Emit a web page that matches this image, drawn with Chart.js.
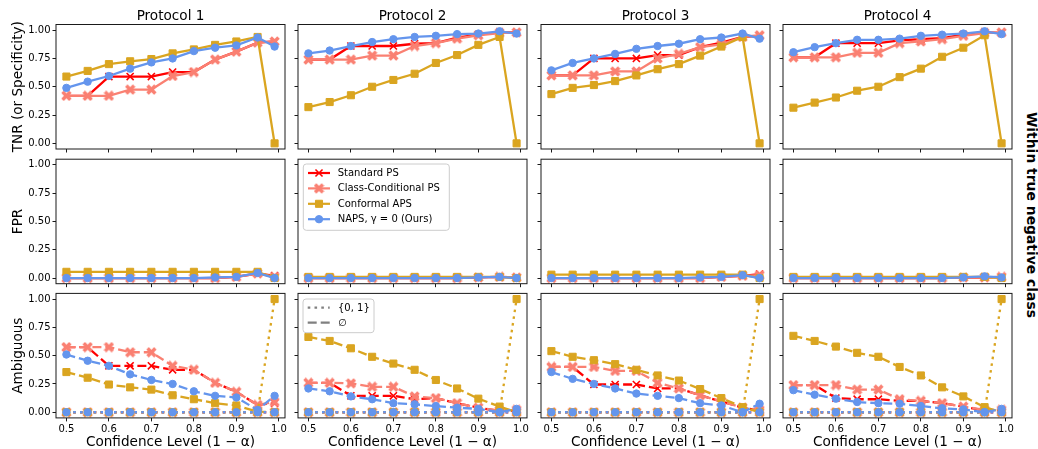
<!DOCTYPE html>
<html>
<head>
<meta charset="utf-8">
<script src="https://cdn.jsdelivr.net/npm/chart.js@4.4.0/dist/chart.umd.min.js"></script>
<style>
  body { margin: 0; background: #fff; }
  #fig { position: relative; width: 1038px; height: 449px; overflow: hidden; background: #fff; }
  #fig canvas { position: absolute; }
  #side {
    position: absolute; left: 1032px; top: 215px;
    transform: translate(-50%, -50%) rotate(90deg);
    white-space: nowrap; font: bold 13.9px 'DejaVu Sans', sans-serif; color: #000;
  }
</style>
</head>
<body>
<div id="fig"><div id="side">Within true negative class</div></div>
<script>
/* data */
const CONF = [0.5, 0.55, 0.6, 0.65, 0.7, 0.75, 0.8, 0.85, 0.9, 0.95, 0.99];
const X_TICKS = [0.5, 0.6, 0.7, 0.8, 0.9, 1.0];
const Y_TICKS = [0, 0.25, 0.5, 0.75, 1.0];
const PROTOCOLS = ['Protocol 1', 'Protocol 2', 'Protocol 3', 'Protocol 4'];
const ROW_TITLES = ['TNR (or Specificity)', 'FPR', 'Ambiguous'];
const METHODS = ['Standard PS', 'Class-Conditional PS', 'Conformal APS', 'NAPS, \u03b3 = 0 (Ours)'];
const AMB_KINDS = ['{0, 1}', '\u2205'];

// TNR, one row per protocol
const TNR_STD = [
  [0.42, 0.42, 0.59, 0.59, 0.59, 0.63, 0.63, 0.74, 0.81, 0.89, 0.90],
  [0.74, 0.74, 0.86, 0.86, 0.86, 0.88, 0.885, 0.935, 0.96, 0.98, 0.98],
  [0.60, 0.60, 0.75, 0.75, 0.75, 0.78, 0.78, 0.85, 0.89, 0.94, 0.95],
  [0.76, 0.76, 0.885, 0.885, 0.885, 0.91, 0.92, 0.93, 0.96, 0.98, 0.975]
];
const TNR_CC = [
  [0.42, 0.42, 0.42, 0.475, 0.475, 0.595, 0.63, 0.74, 0.81, 0.89, 0.90],
  [0.74, 0.74, 0.74, 0.775, 0.775, 0.86, 0.885, 0.925, 0.955, 0.975, 0.98],
  [0.60, 0.60, 0.60, 0.635, 0.635, 0.75, 0.79, 0.85, 0.875, 0.94, 0.955],
  [0.76, 0.76, 0.76, 0.80, 0.80, 0.885, 0.90, 0.92, 0.95, 0.975, 0.98]
];
const TNR_APS = [
  [0.59, 0.64, 0.70, 0.725, 0.745, 0.795, 0.83, 0.87, 0.90, 0.94, 0],
  [0.32, 0.365, 0.425, 0.50, 0.56, 0.615, 0.71, 0.78, 0.87, 0.94, 0],
  [0.435, 0.49, 0.515, 0.55, 0.60, 0.655, 0.70, 0.775, 0.855, 0.94, 0],
  [0.315, 0.36, 0.405, 0.465, 0.50, 0.585, 0.66, 0.765, 0.845, 0.955, 0]
];
const TNR_NAPS = [
  [0.49, 0.545, 0.595, 0.66, 0.715, 0.75, 0.815, 0.845, 0.865, 0.935, 0.855],
  [0.795, 0.82, 0.86, 0.895, 0.92, 0.94, 0.95, 0.965, 0.97, 0.99, 0.97],
  [0.645, 0.71, 0.75, 0.79, 0.835, 0.86, 0.88, 0.92, 0.935, 0.97, 0.925],
  [0.805, 0.85, 0.885, 0.915, 0.915, 0.925, 0.95, 0.96, 0.97, 0.99, 0.965]
];

// FPR
const FPR_STD = [
  [0, 0, 0, 0, 0, 0, 0, 0, 0.01, 0.04, 0.02],
  [0, 0, 0, 0, 0, 0, 0, 0, 0.005, 0.01, 0.005],
  [0, 0, 0, 0, 0, 0, 0, 0, 0.01, 0.02, 0.035],
  [0, 0, 0, 0, 0, 0, 0, 0, 0.005, 0.005, 0.01]
];
const FPR_CC = [
  [0, 0, 0, 0, 0, 0, 0, 0, 0.01, 0.04, 0.01],
  [0, 0, 0, 0, 0, 0, 0, 0, 0.005, 0.01, 0.005],
  [0, 0, 0, 0, 0, 0, 0, 0, 0.01, 0.02, 0.025],
  [0, 0, 0, 0, 0, 0, 0, 0, 0.005, 0.005, 0.01]
];
const FPR_APS = [
  [0.055, 0.055, 0.055, 0.055, 0.055, 0.055, 0.055, 0.055, 0.055, 0.055, 0],
  [0.01, 0.01, 0.01, 0.01, 0.01, 0.01, 0.01, 0.01, 0.01, 0.01, 0],
  [0.03, 0.03, 0.03, 0.03, 0.03, 0.03, 0.03, 0.03, 0.03, 0.03, 0],
  [0.01, 0.01, 0.01, 0.01, 0.01, 0.01, 0.01, 0.01, 0.01, 0.01, 0]
];
const FPR_NAPS = [
  [0, 0, 0, 0, 0, 0, 0, 0.005, 0.01, 0.045, 0],
  [0, 0, 0, 0, 0, 0, 0, 0, 0.005, 0.01, 0],
  [0, 0, 0, 0, 0, 0, 0, 0.005, 0.01, 0.025, 0],
  [0, 0, 0, 0, 0, 0, 0, 0, 0.005, 0.015, 0.005]
];

// Ambiguous, empty set (dashed)
const EMPTY_STD = [
  [0.575, 0.575, 0.41, 0.41, 0.41, 0.375, 0.375, 0.26, 0.18, 0.065, 0.08],
  [0.26, 0.26, 0.145, 0.145, 0.145, 0.115, 0.125, 0.08, 0.04, 0.01, 0.015],
  [0.40, 0.40, 0.245, 0.245, 0.245, 0.21, 0.21, 0.15, 0.095, 0.04, 0.015],
  [0.24, 0.24, 0.125, 0.115, 0.115, 0.10, 0.10, 0.08, 0.05, 0.015, 0.015]
];
const EMPTY_CC = [
  [0.575, 0.575, 0.575, 0.53, 0.53, 0.41, 0.375, 0.26, 0.18, 0.065, 0.09],
  [0.26, 0.26, 0.255, 0.225, 0.225, 0.14, 0.125, 0.08, 0.04, 0.015, 0.02],
  [0.40, 0.40, 0.40, 0.365, 0.365, 0.26, 0.21, 0.15, 0.095, 0.04, 0.02],
  [0.24, 0.24, 0.24, 0.20, 0.20, 0.115, 0.10, 0.08, 0.05, 0.02, 0.02]
];
const EMPTY_APS = [
  [0.355, 0.305, 0.245, 0.22, 0.20, 0.15, 0.115, 0.08, 0.06, 0.005, 0],
  [0.665, 0.63, 0.565, 0.49, 0.43, 0.375, 0.285, 0.21, 0.12, 0.05, 0],
  [0.54, 0.49, 0.46, 0.425, 0.375, 0.325, 0.28, 0.205, 0.125, 0.045, 0],
  [0.675, 0.63, 0.58, 0.525, 0.49, 0.40, 0.325, 0.22, 0.14, 0.045, 0]
];
const EMPTY_NAPS = [
  [0.51, 0.455, 0.41, 0.335, 0.285, 0.25, 0.185, 0.145, 0.13, 0.02, 0.145],
  [0.21, 0.185, 0.14, 0.115, 0.08, 0.07, 0.055, 0.04, 0.03, 0, 0.03],
  [0.355, 0.295, 0.25, 0.21, 0.165, 0.145, 0.125, 0.08, 0.06, 0, 0.075],
  [0.195, 0.155, 0.12, 0.09, 0.08, 0.075, 0.055, 0.035, 0.025, 0, 0.03]
];

// Ambiguous, both labels {0,1} (dotted) - same in every protocol
const BOTH_STD  = [0, 0, 0, 0, 0, 0, 0, 0, 0, 0, 0];
const BOTH_CC   = [0, 0, 0, 0, 0, 0, 0, 0, 0, 0, 0];
const BOTH_APS  = [0, 0, 0, 0, 0, 0, 0, 0, 0, 0, 1.0];
const BOTH_NAPS = [0, 0, 0, 0, 0, 0, 0, 0, 0, 0, 0];

/* layout of the 3x4 grid (pixels) */
const COL_LEFT = [56, 298, 541, 783];
const ROW_TOP = [24.5, 159.2, 293.4];
const PLOT_W = 229, PLOT_H = 124.5;
const FIG_H = 449;
const EDGE = 11; // spare room round inner plots so tick labels never squeeze them

Chart.defaults.font.family = "'DejaVu Sans', sans-serif";
Chart.defaults.color = '#000';

function makeXMarker(color) {
  const c = document.createElement('canvas');
  c.width = 11; c.height = 11;
  const g = c.getContext('2d');
  g.strokeStyle = color; g.lineWidth = 3.5;
  g.beginPath();
  g.moveTo(1.6, 1.6); g.lineTo(9.4, 9.4);
  g.moveTo(9.4, 1.6); g.lineTo(1.6, 9.4);
  g.stroke();
  return c;
}

const STYLES = [
  { color: '#ff0000', pointStyle: 'crossRot', radius: 5, pbw: 1.6 },
  { color: '#fa8072', pointStyle: makeXMarker('#fa8072'), radius: 5, pbw: 1 },
  { color: '#daa520', pointStyle: 'rect', radius: 5, pbw: 1 },
  { color: '#6495ed', pointStyle: 'circle', radius: 3.7, pbw: 1 }
];
const DASHED = [9, 4];
const DOTTED = [2.6, 4.2];

const TNR = [TNR_STD, TNR_CC, TNR_APS, TNR_NAPS];
const FPR = [FPR_STD, FPR_CC, FPR_APS, FPR_NAPS];
const EMPTY = [EMPTY_STD, EMPTY_CC, EMPTY_APS, EMPTY_NAPS];
const BOTH = [BOTH_STD, BOTH_CC, BOTH_APS, BOTH_NAPS];

function drawMarker(ctx, st, x, y) {
  ctx.save();
  ctx.fillStyle = st.color; ctx.strokeStyle = st.color; ctx.lineWidth = st.pbw;
  ctx.setLineDash([]);
  if (st.pointStyle instanceof HTMLCanvasElement) {
    ctx.drawImage(st.pointStyle, x - st.pointStyle.width / 2, y - st.pointStyle.height / 2);
  } else if (st.pointStyle === 'rect') {
    const s = st.radius * Math.SQRT1_2;
    ctx.beginPath(); ctx.rect(x - s, y - s, 2 * s, 2 * s); ctx.fill(); ctx.stroke();
  } else if (st.pointStyle === 'circle') {
    ctx.beginPath(); ctx.arc(x, y, st.radius, 0, Math.PI * 2); ctx.fill(); ctx.stroke();
  } else if (st.pointStyle === 'crossRot') {
    const d = st.radius * Math.SQRT1_2;
    ctx.beginPath();
    ctx.moveTo(x - d, y - d); ctx.lineTo(x + d, y + d);
    ctx.moveTo(x + d, y - d); ctx.lineTo(x - d, y + d);
    ctx.stroke();
  }
  ctx.restore();
}

// full box round the axes, like matplotlib spines
const framePlugin = {
  id: 'frame',
  afterDatasetsDraw(chart) {
    const { ctx, chartArea: a } = chart;
    ctx.save();
    ctx.strokeStyle = '#1a1a1a'; ctx.lineWidth = 1;
    ctx.strokeRect(a.left, a.top, a.right - a.left, a.bottom - a.top);
    ctx.restore();
  }
};

// legend box inside the axes (upper left)
const boxLegendPlugin = {
  id: 'boxLegend',
  afterDraw(chart, args, opts) {
    if (!opts || !opts.items) return;
    const { ctx, chartArea: a } = chart;
    const x0 = a.left + opts.dx, y0 = a.top + opts.dy;
    ctx.save();
    ctx.beginPath();
    if (ctx.roundRect) ctx.roundRect(x0, y0, opts.w, opts.h, 3); else ctx.rect(x0, y0, opts.w, opts.h);
    ctx.fillStyle = 'rgba(255,255,255,0.8)'; ctx.fill();
    ctx.strokeStyle = '#cccccc'; ctx.lineWidth = 1; ctx.stroke();
    ctx.font = "10px 'DejaVu Sans', sans-serif";
    ctx.textBaseline = 'middle'; ctx.textAlign = 'left';
    opts.items.forEach((it, i) => {
      const y = y0 + opts.firstRow + i * opts.rowStep;
      ctx.save();
      ctx.strokeStyle = it.color; ctx.lineWidth = 2.2;
      ctx.setLineDash(it.dash || []);
      ctx.beginPath(); ctx.moveTo(x0 + 4.7, y); ctx.lineTo(x0 + 26.7, y); ctx.stroke();
      ctx.restore();
      if (it.marker) drawMarker(ctx, it.marker, x0 + 15.7, y);
      ctx.fillStyle = '#000';
      ctx.fillText(it.label, x0 + opts.textX, y + 0.5);
    });
    ctx.restore();
  }
};

function lineDataset(vals, st, dash, order) {
  return {
    data: CONF.map((x, i) => ({ x: x, y: vals[i] })),
    borderColor: st.color,
    backgroundColor: st.color,
    borderWidth: 2.3,
    borderDash: dash,
    pointStyle: st.pointStyle,
    pointRadius: st.radius,
    pointBorderWidth: st.pbw,
    pointBackgroundColor: st.color,
    pointBorderColor: st.color,
    tension: 0,
    clip: false,
    order: order
  };
}

function buildDatasets(r, p) {
  const sets = [];
  if (r === 0 || r === 1) {
    const src = r === 0 ? TNR : FPR;
    src.forEach((m, k) => sets.push(lineDataset(m[p], STYLES[k], [], 10 - k)));
  } else {
    EMPTY.forEach((m, k) => {
      sets.push(lineDataset(m[p], STYLES[k], DASHED, 20 - 2 * k));
      sets.push(lineDataset(BOTH[k], STYLES[k], DOTTED, 19 - 2 * k));
    });
  }
  return sets;
}

function legendFor(r, c) {
  if (c !== 1) return {};
  if (r === 1) {
    return {
      dx: 5.3, dy: 4.8, w: 146, h: 66.3, firstRow: 9, rowStep: 15.4, textX: 34.4,
      items: METHODS.map((label, k) => ({ label, color: STYLES[k].color, marker: STYLES[k] }))
    };
  }
  if (r === 2) {
    return {
      dx: 5, dy: 5.6, w: 71, h: 33.7, firstRow: 8.7, rowStep: 15, textX: 35,
      items: [
        { label: AMB_KINDS[0], color: '#808080', dash: DOTTED },
        { label: AMB_KINDS[1], color: '#808080', dash: DASHED }
      ]
    };
  }
  return {};
}

const fig = document.getElementById('fig');

for (let r = 0; r < 3; r++) {
  for (let c = 0; c < 4; c++) {
    const yW = c === 0 ? 56 : EDGE;
    const left = COL_LEFT[c] - yW;
    const width = yW + PLOT_W + EDGE;
    let top, padTop, titleH;
    if (r === 0) { top = 0; padTop = 0; titleH = ROW_TOP[0]; }
    else { top = Math.floor(ROW_TOP[r]) - EDGE; padTop = ROW_TOP[r] - top; titleH = 0; }
    const height = r === 2 ? FIG_H - top : Math.ceil(padTop + titleH + PLOT_H + EDGE);
    const xH = height - padTop - titleH - PLOT_H;

    const canvas = document.createElement('canvas');
    canvas.width = width; canvas.height = height;
    canvas.style.left = left + 'px'; canvas.style.top = top + 'px';
    canvas.style.width = width + 'px'; canvas.style.height = height + 'px';
    fig.appendChild(canvas);

    const titleFont = 13.6;
    new Chart(canvas, {
      type: 'line',
      data: { datasets: buildDatasets(r, c) },
      options: {
        responsive: false,
        animation: false,
        devicePixelRatio: 1,
        events: [],
        layout: { padding: { top: padTop, right: EDGE, bottom: 0, left: 0 } },
        scales: {
          x: {
            type: 'linear', min: 0.4755, max: 1.0145,
            afterBuildTicks: s => { s.ticks = X_TICKS.map(v => ({ value: v })); },
            afterFit: s => { s.height = xH; },
            ticks: { display: r === 2, autoSkip: false, maxRotation: 0, padding: 2,
                     font: { size: 10 }, color: '#000', callback: v => Number(v).toFixed(1) },
            grid: { drawOnChartArea: false, drawTicks: true, tickLength: 3.5, tickColor: '#000', tickWidth: 0.9 },
            border: { display: false },
            title: { display: r === 2, text: 'Confidence Level (1 \u2212 \u03b1)', font: { size: titleFont },
                     color: '#000', padding: { top: 0, bottom: -1.5 } }
          },
          y: {
            type: 'linear', min: -0.05, max: 1.05,
            afterBuildTicks: s => { s.ticks = Y_TICKS.map(v => ({ value: v })); },
            afterFit: s => { s.width = yW; },
            ticks: { display: c === 0, padding: 2, font: { size: 10 }, color: '#000',
                     callback: v => Number(v).toFixed(2) },
            grid: { drawOnChartArea: false, drawTicks: true, tickLength: 3.5, tickColor: '#000', tickWidth: 0.9 },
            border: { display: false },
            title: { display: c === 0, text: ROW_TITLES[r], font: { size: titleFont },
                     color: '#000', padding: { top: 10, bottom: 0 } }
          }
        },
        plugins: {
          legend: { display: false },
          tooltip: { enabled: false },
          title: {
            display: r === 0, text: PROTOCOLS[c], fullSize: false, color: '#000',
            font: { size: titleFont, weight: 'normal' },
            padding: { top: ROW_TOP[0] - titleFont * 1.2, bottom: 0 }
          },
          boxLegend: legendFor(r, c)
        }
      },
      plugins: [framePlugin, boxLegendPlugin]
    });
  }
}
</script>
</body>
</html>
